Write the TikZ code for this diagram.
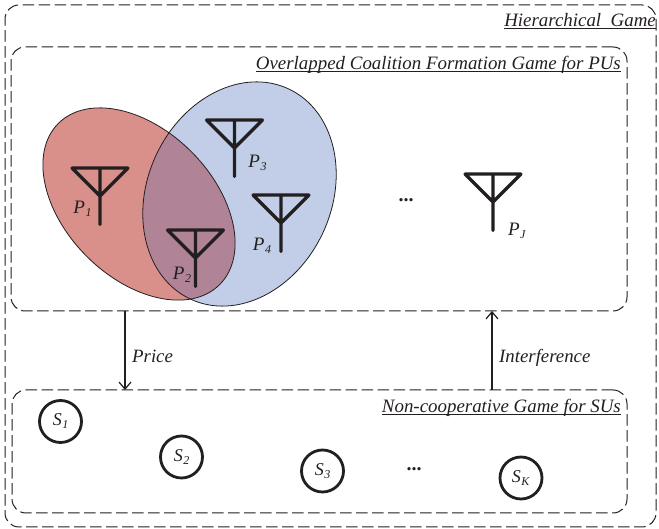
\documentclass[tikz,border=0pt]{standalone}
\usepackage{fontspec}
\setmainfont{Liberation Serif}
\usetikzlibrary{arrows.meta}
\definecolor{redfill}{HTML}{D98F8A}
\definecolor{bluefill}{HTML}{C2CEE8}
\definecolor{bothfill}{HTML}{B18397}
\definecolor{ink}{HTML}{231F20}
\newcommand{\lab}[2]{\textit{#1}\kern0.5pt\raisebox{-3pt}{\fontsize{12}{12}\selectfont\textit{#2}}}
\newcommand{\ttl}[1]{\underline{\smash{#1}}}
\tikzset{
  x=1pt,y=1pt,
  every node/.style={text=ink},
  gamebox/.style={draw=ink,line width=1pt,dash pattern=on 11.5pt off 4.5pt,rounded corners=14pt,minimum width=#1,inner sep=0pt,outer sep=0pt},
  title/.style={font=\fontsize{18.9}{21}\selectfont\itshape,inner sep=0pt,anchor=base east},
  plabel/.style={font=\fontsize{19}{21}\selectfont,inner sep=0pt},
  flabel/.style={font=\fontsize{18.8}{21}\selectfont\itshape,inner sep=0pt,anchor=west},
  suser/.style={circle,draw=ink,line width=2.8pt,minimum size=42pt,inner sep=0pt,font=\fontsize{18}{21}\selectfont},
  ant/.style={draw=ink,line width=3.4pt,line cap=round,line join=round},
  dots/.style={font=\fontsize{20}{20}\selectfont\bfseries,inner sep=0pt},
  flow/.style={draw=ink,line width=1.2pt,-{Straight Barb[length=7pt,width=12pt]}}
}
\newcommand{\antenna}[2]{%
  \draw[ant] (#1-28,#2) -- (#1+28,#2) (#1-28,#2) -- (#1,#2-28) -- (#1+28,#2) (#1,#2) -- (#1,#2-56.5);}
\begin{document}
\begin{tikzpicture}
\useasboundingbox (0,0) rectangle (659,529);
% outer and inner boxes
\node[gamebox=651pt,minimum height=522pt] (hg) at (330.5,263) {};
\node[gamebox=616pt,minimum height=264pt] (pu) at (319,350) {};
\node[gamebox=615pt,minimum height=123pt] (su) at (319.5,77.5) {};
% coalitions
\fill[redfill] (139,325) ellipse[x radius=114,y radius=74,rotate=-45];
\fill[bluefill] (239.5,335) ellipse[x radius=116,y radius=92,rotate=65];
\begin{scope}
  \clip (139,325) ellipse[x radius=114,y radius=74,rotate=-45];
  \fill[bothfill] (239.5,335) ellipse[x radius=116,y radius=92,rotate=65];
\end{scope}
\draw[ink,line width=0.8pt] (139,325) ellipse[x radius=114,y radius=74,rotate=-45];
\draw[ink,line width=0.8pt] (239.5,335) ellipse[x radius=116,y radius=92,rotate=65];
% antennas
\antenna{100}{361}
\antenna{234.5}{409}
\antenna{281}{334}
\antenna{195.5}{299}
\antenna{493}{355}
% labels
\node[plabel] (p1) at (82.5,320) {\lab{P}{1}};
\node[plabel] (p3) at (257.5,366) {\lab{P}{3}};
\node[plabel] (p4) at (262,283) {\lab{P}{4}};
\node[plabel] (p2) at (182,254) {\lab{P}{2}};
\node[plabel] (pj) at (517,298) {\lab{P}{J}};
\node[dots] (d1) at (406,329) {...};
\node[dots] (d2) at (414,60) {...};
% titles
\node[title] (t1) at (656,502) {\ttl{Hierarchical\ \ Game}};
\node[title] (t2) at (621,459) {\ttl{Overlapped Coalition Formation Game for PUs}};
\node[title] (t3) at (621,116) {\ttl{Non-cooperative Game for SUs}};
% secondary users
\node[suser] (s1) at (60.5,107.5) {\lab{S}{1}};
\node[suser] (s2) at (181.5,72) {\lab{S}{2}};
\node[suser] (s3) at (322.5,58) {\lab{S}{3}};
\node[suser] (sk) at (521,51) {\lab{S}{K}};
% flows
\coordinate (px) at (125,0);
\coordinate (ix) at (492,0);
\draw[flow] (pu.south -| px) -- (su.north -| px);
\draw[flow] (su.north -| ix) -- (pu.south -| ix);
\node[flabel] (price) at (132,173) {Price};
\node[flabel] (intf) at (499,171.5) {Interference};
\end{tikzpicture}
\end{document}
